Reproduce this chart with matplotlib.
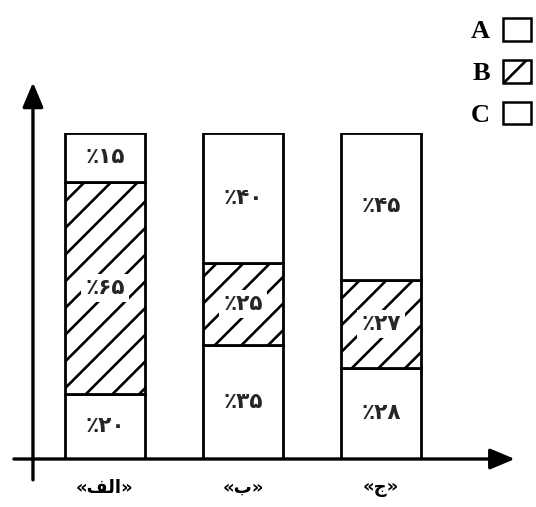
import matplotlib
matplotlib.use("Agg")
import matplotlib.pyplot as plt
from matplotlib.patches import Patch

# data
categories = ["«ﻒﻟﺍ»", "«ﺏ»", "«ﺝ»"]
series_names = ["A", "B", "C"]
values_a = [20, 35, 28]
values_b = [65, 25, 27]
values_c = [15, 40, 45]
hatches = ["", "//", ""]

fa_digits = str.maketrans("0123456789", "۰۱۲۳۴۵۶۷۸۹")


def fa_label(v):
    return "٪" + str(v).translate(fa_digits)


# a higher dpi widens the hatch spacing; sizes below are scaled back by k
DPI = 160
k = 100 / DPI

plt.rcParams["hatch.linewidth"] = 1.9 * k

fig = plt.figure(figsize=(536 / DPI, 507 / DPI), dpi=DPI)
# axes placed so that y=0..100 runs from the x-axis line to the bar tops
ax = fig.add_axes([0, 48 / 507, 1, 326 / 507])
ax.set_xlim(-105 / 138, (536 - 105) / 138)
ax.set_ylim(0, 100)
ax.axis("off")

x = range(len(categories))
bottom = [0, 0, 0]
for vals, h in zip([values_a, values_b, values_c], hatches):
    ax.bar(x, vals, width=0.58, bottom=bottom, facecolor="white",
           edgecolor="black", linewidth=2.0 * k, hatch=h)
    for i, v in enumerate(vals):
        ax.text(i, bottom[i] + v / 2, fa_label(v), ha="center", va="center",
                fontsize=15.5 * k, fontweight="bold", family="DejaVu Sans",
                color="#262626",
                bbox=dict(facecolor="white", edgecolor="none", pad=3 * k))
    bottom = [b + v for b, v in zip(bottom, vals)]

# category names under the axis
for i, c in enumerate(categories):
    ax.text(i, -8.8, c, ha="center", va="center", fontsize=13 * k,
            fontweight="bold", family="DejaVu Sans")

# axes drawn as arrows
arrow = dict(arrowstyle="-|>,head_length=1.0,head_width=0.42", lw=2.4 * k,
             color="black", mutation_scale=15 * k, shrinkA=0, shrinkB=0)
ax.annotate("", xy=(-0.522, 115.5), xytext=(-0.522, -6.4),
            arrowprops=arrow, annotation_clip=False)
ax.annotate("", xy=(2.97, 0), xytext=(-0.66, 0),
            arrowprops=arrow, annotation_clip=False)

handles = [Patch(facecolor="white", edgecolor="black", linewidth=1.8 * k,
                 hatch=h) for h in hatches]
ax.legend(handles, series_names, markerfirst=False, frameon=False,
          prop=dict(family="Liberation Serif", weight="bold", size=19 * k),
          handlelength=1.05, handleheight=0.95, handletextpad=0.5,
          labelspacing=0.62, loc="upper right",
          bbox_to_anchor=(531 / 536, 1 - 18 / 507),
          bbox_transform=fig.transFigure, borderaxespad=0, borderpad=0)

fig.savefig("out.png", dpi=DPI)
